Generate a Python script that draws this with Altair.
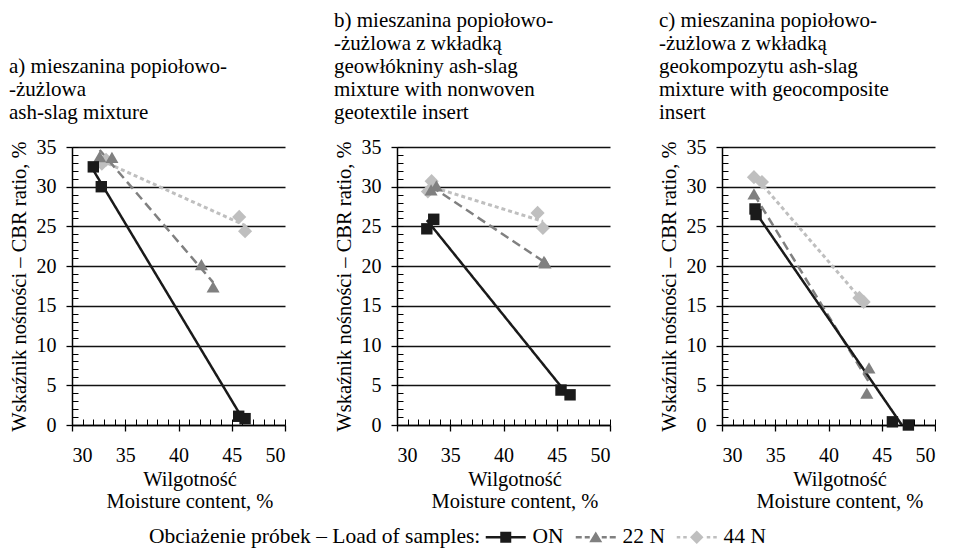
import altair as alt
import pandas as pd

FONT = "'Liberation Serif', 'Times New Roman', serif"

series = ["ON", "22 N", "44 N"]

# panel a) ash-slag mixture
a_on_x = [32.0, 32.75, 45.65, 46.25]
a_on_y = [32.5, 30.0, 1.1, 0.8]
a_22_x = [32.6, 33.75, 42.15, 43.25]
a_22_y = [33.8, 33.7, 20.2, 17.4]
a_44_x = [32.8, 33.2, 45.7, 46.25]
a_44_y = [32.9, 33.4, 26.2, 24.4]

# panel b) with nonwoven geotextile insert
b_on_x = [32.8, 33.45, 45.4, 46.25]
b_on_y = [24.7, 25.9, 4.4, 3.8]
b_22_x = [33.2, 33.7, 43.8, 43.9]
b_22_y = [29.6, 30.1, 20.6, 20.4]
b_44_x = [32.9, 33.25, 43.2, 43.7]
b_44_y = [29.4, 30.7, 26.7, 24.8]

# panel c) with geocomposite insert
c_on_x = [33.1, 33.2, 46.0, 47.5]
c_on_y = [27.2, 26.5, 0.4, 0.0]
c_22_x = [33.0, 43.8, 43.6]
c_22_y = [29.1, 7.2, 4.0]
c_44_x = [33.0, 33.75, 42.9, 43.3]
c_44_y = [31.2, 30.6, 16.0, 15.5]

title_a = ["a) mieszanina popiołowo-", "-żużlowa", "ash-slag mixture"]
title_b = ["b) mieszanina popiołowo-", "-żużlowa z wkładką", "geowłókniny ash-slag",
           "mixture with nonwoven", "geotextile insert"]
title_c = ["c) mieszanina popiołowo-", "-żużlowa z wkładką", "geokompozytu ash-slag",
           "mixture with geocomposite", "insert"]

x_title = ["Wilgotność", "Moisture content, %"]
y_title = "Wskaźnik nośności – CBR ratio, %"
legend_title = "Obciażenie próbek – Load of samples:"

major_x = [30, 35, 40, 45, 50]
minor_x = list(range(30, 51))
major_y = [0, 5, 10, 15, 20, 25, 30, 35]
minor_y = list(range(0, 36))

# styles
colors = ["#1a1a1a", "#808080", "#bfbfbf"]
shapes = ["square", "triangle-up", "diamond"]
sizes = [130, 170, 200]
dashes = [[1, 0], [9, 5], [4, 3]]
widths = [2.5, 2.5, 3]
legend_paths = [
    "M-4,-0.25H4V0.25H-4Z M-1.1,-1.1H1.1V1.1H-1.1Z",
    "M-4,-0.25H-2.8V0.25H-4Z M-2.2,-0.25H-1.2V0.25H-2.2Z M0,-1.15L1.3,1L-1.3,1Z "
    "M1.2,-0.25H2.2V0.25H1.2Z M2.8,-0.25H4V0.25H2.8Z",
    "M-4,-0.25H-3.3V0.25H-4Z M-2.7,-0.25H-2V0.25H-2.7Z M0,-1.35L1.35,0L0,1.35L-1.35,0Z "
    "M2,-0.25H2.7V0.25H2Z M3.3,-0.25H4V0.25H3.3Z",
]

panel_data = {
    "a": [(a_on_x, a_on_y), (a_22_x, a_22_y), (a_44_x, a_44_y)],
    "b": [(b_on_x, b_on_y), (b_22_x, b_22_y), (b_44_x, b_44_y)],
    "c": [(c_on_x, c_on_y), (c_22_x, c_22_y), (c_44_x, c_44_y)],
}
rows = []
for p, lst in panel_data.items():
    for s, (xs, ys) in zip(series, lst):
        for xv, yv in zip(xs, ys):
            rows.append({"panel": p, "series": s, "moisture": xv, "cbr": yv})
df = pd.DataFrame(rows)

W, H = 213, 278
xscale = alt.Scale(domain=[30, 50], nice=False, zero=False)
yscale = alt.Scale(domain=[0, 35], nice=False, zero=False)

x_main = alt.Axis(values=major_x, orient="bottom", title=x_title, titleFont=FONT,
                  titleFontSize=20.5, titleFontWeight="normal", titleColor="black",
                  titleLineHeight=22, titlePadding=4, titleX=W / 2 + 11, titleAlign="center",
                  labelFont=FONT, labelFontSize=20, labelColor="black", labelPadding=14,
                  tickSize=6, tickColor="black", tickWidth=1.3, domainColor="black",
                  domainWidth=1.5, grid=False)
y_main = alt.Axis(values=major_y, orient="left", title=y_title, titleFont=FONT,
                  titleFontSize=20.5, titleFontWeight="normal", titleColor="black",
                  titlePadding=7, labelFont=FONT, labelFontSize=20, labelColor="black",
                  labelPadding=10, tickSize=6, tickColor="black", tickWidth=1.3,
                  domainColor="black", domainWidth=1.5, grid=True, gridColor="#111111",
                  gridWidth=1.3)
x_minor = alt.Axis(values=minor_x, orient="bottom", offset=-6, tickSize=6, tickColor="black",
                   tickWidth=1, labels=False, domain=False, grid=False, title=None)
y_minor = alt.Axis(values=minor_y, orient="left", offset=-6, tickSize=6, tickColor="black",
                   tickWidth=1, labels=False, domain=False, grid=False, title=None)

legend_def = alt.Legend(orient="none", legendX=77, legendY=379, direction="horizontal",
                        title=legend_title, titleOrient="left", titleFont=FONT,
                        titleFontSize=21.5, titleFontWeight="normal", titleColor="black",
                        titleLimit=600, titlePadding=14, labelFont=FONT, labelFontSize=21.5,
                        labelColor="black", labelOffset=16, columnPadding=11,
                        symbolSize=100, symbolStrokeWidth=0, symbolOpacity=1)


def build(p, title_lines, with_legend):
    base = alt.Chart(df).transform_filter(alt.datum.panel == p)
    lines, points = [], []
    for i, s in enumerate(series):
        sb = base.transform_filter(alt.datum.series == s)
        if i == 0:
            xa, ya, xb, yb = x_main, y_main, x_minor, y_minor
        else:
            xa = ya = xb = yb = None
        lines.append(
            sb.transform_regression("moisture", "cbr")
            .mark_line(clip=True, color=colors[i], strokeWidth=widths[i], strokeDash=dashes[i])
            .encode(x=alt.X("moisture:Q", scale=xscale, axis=xa),
                    y=alt.Y("cbr:Q", scale=yscale, axis=ya))
        )
        points.append(
            sb.mark_point(shape=shapes[i], filled=True, size=sizes[i], color=colors[i],
                          opacity=1, strokeWidth=0)
            .encode(x=alt.X("moisture:Q", scale=xscale, axis=xb),
                    y=alt.Y("cbr:Q", scale=yscale, axis=yb))
        )
    layers = lines[::-1] + points[::-1]
    if with_legend:
        layers.append(
            base.transform_filter("false").mark_point(filled=True, size=100).encode(
                x=alt.X("moisture:Q", scale=xscale, axis=None),
                y=alt.Y("cbr:Q", scale=yscale, axis=None),
                color=alt.Color("series:N", scale=alt.Scale(domain=series, range=colors),
                                legend=legend_def),
                shape=alt.Shape("series:N", scale=alt.Scale(domain=series, range=legend_paths),
                                legend=legend_def),
            )
        )
    return alt.layer(*layers).resolve_axis(x="independent", y="independent").properties(
        width=W, height=H,
        title=alt.Title(text=title_lines, anchor="start", frame="bounds", font=FONT,
                        fontSize=21, fontWeight="normal", color="black", lineHeight=23,
                        offset=14),
    )


chart = alt.hconcat(
    build("a", title_a, True),
    build("b", title_b, False),
    build("c", title_c, False),
    spacing=112, bounds="flush",
).properties(padding={"left": 0, "top": 2, "right": 0, "bottom": 0},
             background="white").configure_view(stroke=None)

chart.save("out.html", embed_options={"renderer": "svg", "actions": False})
